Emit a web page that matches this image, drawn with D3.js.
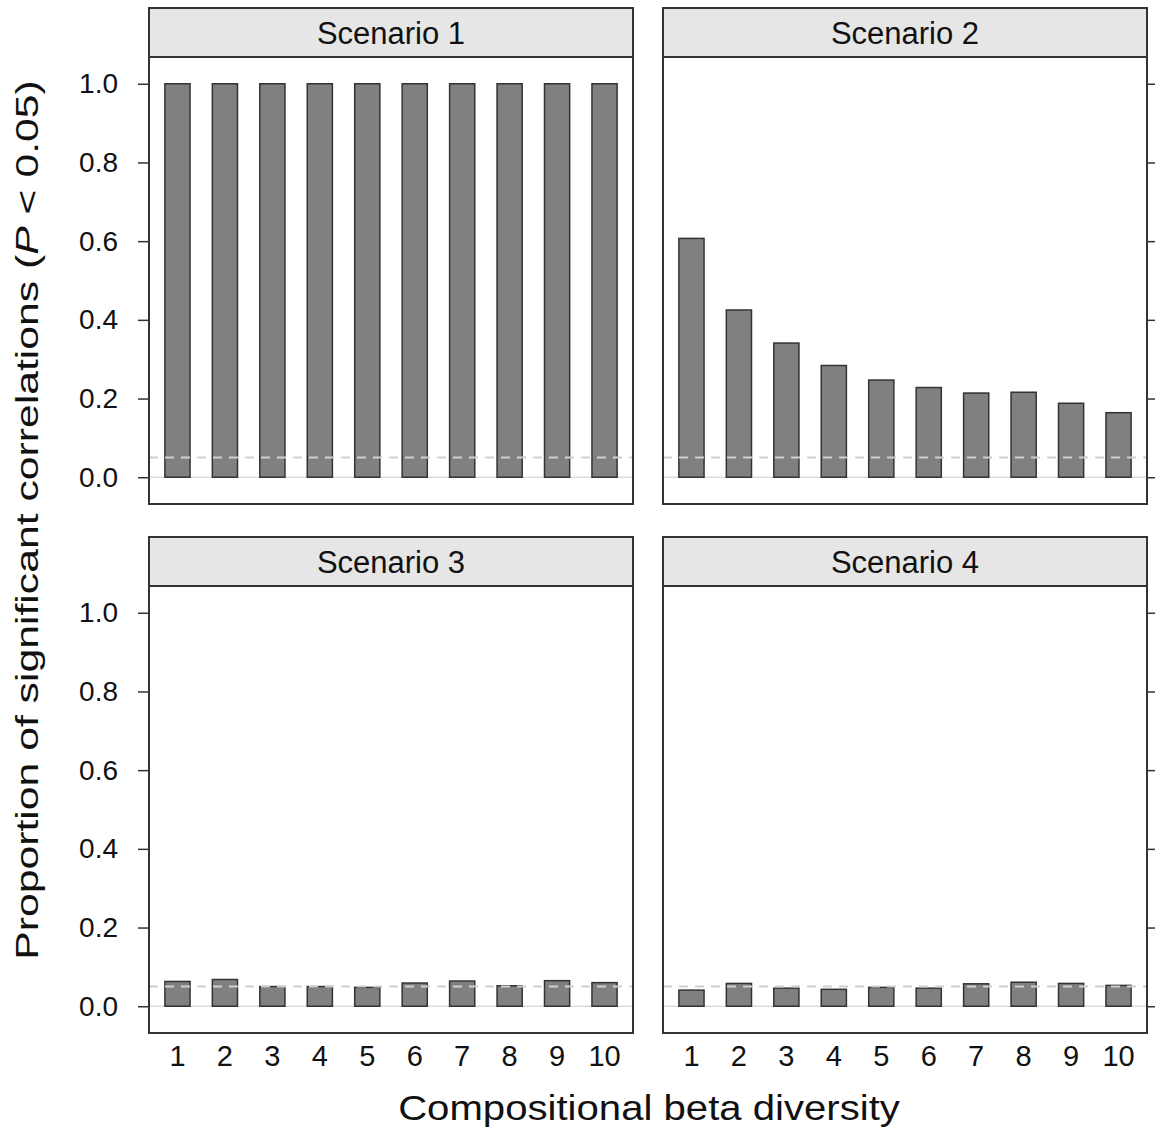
<!DOCTYPE html>
<html>
<head>
<meta charset="utf-8">
<script src="https://cdn.jsdelivr.net/npm/d3@7"></script>
<style>
  body { margin: 0; background: #fff; }
  svg { display: block; font-family: "Liberation Sans", Arial, sans-serif; }
</style>
</head>
<body>
<div id="chart"></div>
<script>
// values
const categories = ['1', '2', '3', '4', '5', '6', '7', '8', '9', '10'];
const scenarios = ['Scenario 1', 'Scenario 2', 'Scenario 3', 'Scenario 4'];
const scenario1 = [1, 1, 1, 1, 1, 1, 1, 1, 1, 1];
const scenario2 = [0.607, 0.425, 0.341, 0.284, 0.247, 0.228, 0.214, 0.216, 0.188, 0.164];
const scenario3 = [0.063, 0.068, 0.050, 0.050, 0.048, 0.059, 0.064, 0.052, 0.065, 0.060];
const scenario4 = [0.041, 0.058, 0.046, 0.043, 0.048, 0.046, 0.057, 0.061, 0.058, 0.053];
const yTicks = [0, 0.2, 0.4, 0.6, 0.8, 1.0];
const threshold = 0.05;

const seriesValues = [scenario1, scenario2, scenario3, scenario4];

const width = 1155, height = 1137;
const svg = d3.select('#chart').append('svg')
  .attr('width', width)
  .attr('height', height);

// panel layout (2 x 2)
const colX = [149, 663];
const panelW = 484;
const rowY = [8, 537];
const stripH = 49;
const plotH = 447;

// the reference glyphs run wider than Liberation Sans; stretch along the text
function stretchTo(sel, target, base) {
  const w = sel.node().getComputedTextLength();
  sel.attr('transform', base + ` scale(${target / w},1)`);
}

scenarios.forEach((name, i) => {
  const col = i % 2, row = Math.floor(i / 2);
  const x0 = colX[col], top = rowY[row];
  const py = top + stripH;

  const x = d3.scaleBand()
    .domain(categories)
    .range([x0, x0 + panelW])
    .paddingInner(0.47)
    .paddingOuter(0.335);

  const y = d3.scaleLinear()
    .domain([-0.068, 1.068])
    .range([py + plotH, py]);

  const g = svg.append('g');

  // strip
  g.append('rect')
    .attr('x', x0).attr('y', top)
    .attr('width', panelW).attr('height', stripH)
    .attr('fill', '#e6e6e6')
    .attr('stroke', '#333').attr('stroke-width', 2);
  g.append('text')
    .attr('x', x0 + panelW / 2).attr('y', top + stripH / 2)
    .attr('dy', '0.36em')
    .attr('text-anchor', 'middle')
    .attr('font-size', 31)
    .attr('fill', '#111')
    .text(name);

  // zero reference line
  g.append('line')
    .attr('x1', x0).attr('x2', x0 + panelW)
    .attr('y1', y(0)).attr('y2', y(0))
    .attr('stroke', '#dcdcdc').attr('stroke-width', 1.5);

  // bars
  g.selectAll('rect.bar')
    .data(seriesValues[i])
    .enter()
    .append('rect')
    .attr('class', 'bar')
    .attr('x', (d, j) => x(categories[j]))
    .attr('width', x.bandwidth())
    .attr('y', d => y(d))
    .attr('height', d => y(0) - y(d))
    .attr('fill', '#808080')
    .attr('stroke', '#333')
    .attr('stroke-width', 1.5);

  // 0.05 threshold, dashed
  g.append('line')
    .attr('x1', x0).attr('x2', x0 + panelW)
    .attr('y1', y(threshold)).attr('y2', y(threshold))
    .attr('stroke', '#cfcfcf').attr('stroke-width', 2)
    .attr('stroke-dasharray', '9,7');

  // panel border
  g.append('rect')
    .attr('x', x0).attr('y', py)
    .attr('width', panelW).attr('height', plotH)
    .attr('fill', 'none')
    .attr('stroke', '#333').attr('stroke-width', 2);

  // y axis: labels on the left column, bare ticks on the right column
  if (col === 0) {
    const ax = g.append('g')
      .attr('transform', `translate(${x0},0)`)
      .call(d3.axisLeft(y).tickValues(yTicks).tickFormat(d3.format('.1f')).tickSize(11).tickPadding(20));
    ax.select('.domain').remove();
    ax.selectAll('line').attr('stroke', '#333').attr('stroke-width', 1.5);
    ax.selectAll('text').attr('font-size', 28).attr('fill', '#111')
      .attr('font-family', '"Liberation Sans", Arial, sans-serif');
  } else {
    const ax = g.append('g')
      .attr('transform', `translate(${x0 + panelW},0)`)
      .call(d3.axisRight(y).tickValues(yTicks).tickFormat('').tickSize(11));
    ax.select('.domain').remove();
    ax.selectAll('line').attr('stroke', '#333').attr('stroke-width', 1.5);
  }

  // x tick labels on the bottom row only, no tick marks
  if (row === 1) {
    const ax = g.append('g')
      .attr('transform', `translate(0,${py + plotH})`)
      .call(d3.axisBottom(x).tickSize(0).tickPadding(12));
    ax.select('.domain').remove();
    ax.selectAll('text').attr('font-size', 29).attr('fill', '#111')
      .attr('font-family', '"Liberation Sans", Arial, sans-serif');
  }
});

// axis titles
const xt = svg.append('text')
  .attr('text-anchor', 'middle')
  .attr('font-size', 35)
  .attr('fill', '#111')
  .text('Compositional beta diversity');
stretchTo(xt, 502, 'translate(649,1120)');

const yt = svg.append('text')
  .attr('text-anchor', 'middle')
  .attr('font-size', 31)
  .attr('fill', '#111');
yt.append('tspan').text('Proportion of significant correlations (');
yt.append('tspan').attr('font-style', 'italic').text('P');
yt.append('tspan').text(' < 0.05)');
stretchTo(yt, 880, 'translate(38,520) rotate(-90)');
</script>
</body>
</html>
